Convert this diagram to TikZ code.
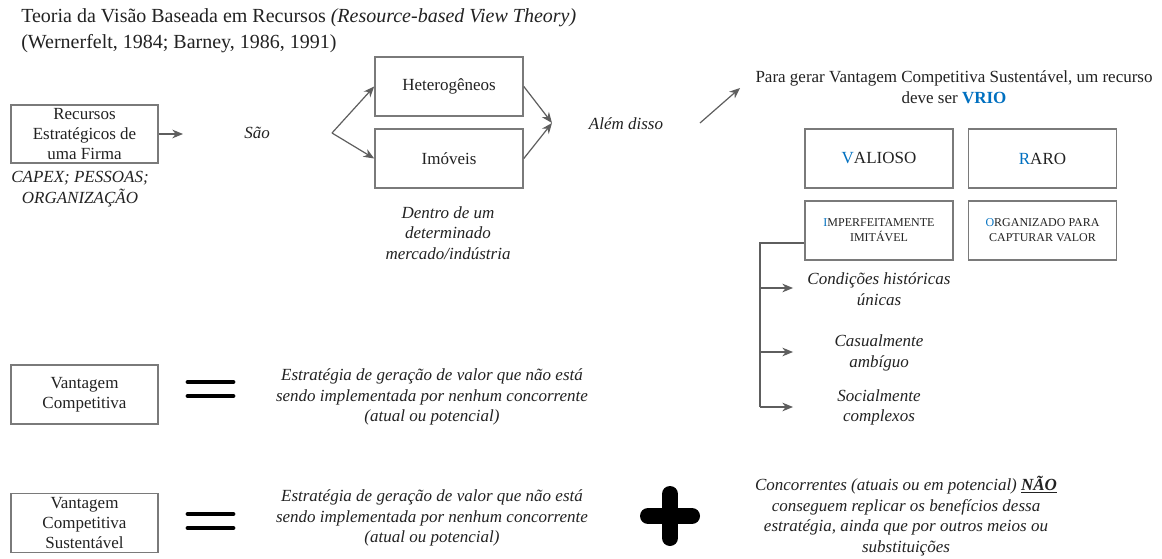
\documentclass[tikz,border=0pt]{standalone}
\usepackage{fontspec}
\setmainfont{Liberation Serif}
\usetikzlibrary{arrows.meta}
\definecolor{vblue}{HTML}{0070C0}
\definecolor{bordergray}{HTML}{7A7A7A}
\definecolor{arrgray}{HTML}{5E5E5E}
\definecolor{txt}{HTML}{222222}
\begin{document}
\begin{tikzpicture}[x=0.75pt,y=-0.75pt,
  every node/.style={text=txt},
  boxnode/.style={draw=bordergray, line width=1.2pt, align=center, inner sep=0pt,
    minimum width=111pt, minimum height=44.25pt, font=\fontsize{12.75}{15}\selectfont},
  smallbox/.style={boxnode, font=\fontsize{9}{11.25}\selectfont},
  plain/.style={align=center, inner sep=0pt, font=\fontsize{12.75}{15.75}\selectfont},
  itext/.style={align=center, inner sep=0pt, font=\fontsize{12.75}{15.5}\selectfont\itshape},
  conn/.style={draw=arrgray, line width=0.9pt, -{Stealth[length=8pt,width=6.5pt,inset=2.5pt]}},
  bracket/.style={draw=arrgray, line width=0.9pt},
  bar/.style={draw=black, line width=3.6pt, line cap=round},
  plusarm/.style={draw=black, line width=12pt, line cap=round},
]
\useasboundingbox[fill=white] (0,0) rectangle (1162,559);

% title
\node[anchor=west, inner sep=0pt, font=\fontsize{15}{18}\selectfont] (title1) at (21,18)
  {Teoria da Visão Baseada em Recursos \textit{(Resource-based View Theory)}};
\node[anchor=west, inner sep=0pt, font=\fontsize{15}{18}\selectfont] (title2) at (21,44)
  {(Wernerfelt, 1984; Barney, 1986, 1991)};

% resources
\node[boxnode, minimum width=110.25pt, minimum height=43.5pt] (rec) at (84.5,134)
  {Recursos\\Estratégicos de\\uma Firma};
\node[itext] (capex) at (80,189) {CAPEX; PESSOAS;\\ORGANIZAÇÃO};
\coordinate (recend) at (183,134);
\draw[conn] (rec.east) -- (recend);
\node[itext] (sao) at (257,133) {São};

\coordinate (fork) at (332,133);
\node[boxnode] (het) at (449,86.5) {Heterogêneos};
\node[boxnode] (imo) at (449,158.5) {Imóveis};
\draw[conn] (fork) -- (het.west);
\draw[conn] (fork) -- (imo.west);
\coordinate (conv) at (552,123);
\draw[conn] (het.east) -- (conv);
\draw[conn] (imo.east) -- (conv);
\node[itext] (dentro) at (448,233) {Dentro de um\\determinado\\mercado/indústria};

\node[itext] (alem) at (626,124) {Além disso};
\coordinate (a1) at (700,123);
\coordinate (a2) at (740,88);
\draw[conn] (a1) -- (a2);

\node[plain] (vrio) at (954,87.5)
  {Para gerar Vantagem Competitiva Sustentável, um recurso\\deve ser \textbf{\textcolor{vblue}{VRIO}}};

% VRIO boxes
\node[boxnode] (val) at (879,158.5) {\textcolor{vblue}{V}ALIOSO};
\node[boxnode] (raro) at (1042.5,158.5) {\textcolor{vblue}{R}ARO};
\node[smallbox] (imp) at (879,230.5) {\textcolor{vblue}{I}MPERFEITAMENTE\\IMITÁVEL};
\node[smallbox] (org) at (1042.5,230.5) {\textcolor{vblue}{O}RGANIZADO PARA\\CAPTURAR VALOR};

% bracket
\coordinate (bk0) at (760,243);
\coordinate (bk1) at (760,288);
\coordinate (bk2) at (760,352);
\coordinate (bk3) at (760,407);
\coordinate (tp1) at (793,288);
\coordinate (tp2) at (793,352);
\coordinate (tp3) at (793,407);
\draw[bracket] (imp.west |- bk0) -- (bk0) -- (bk3);
\draw[conn] (bk1) -- (tp1);
\draw[conn] (bk2) -- (tp2);
\draw[conn] (bk3) -- (tp3);
\node[itext] (cond) at (879,289.5) {Condições históricas\\únicas};
\node[itext] (casu) at (879,353) {Casualmente\\ambíguo};
\node[itext] (soc) at (879,407.5) {Socialmente\\complexos};

% bottom rows
\node[boxnode, minimum width=110.25pt] (vc) at (84.5,394.5) {Vantagem\\Competitiva};
\node[boxnode, minimum width=110.25pt] (vcs) at (84.5,523) {Vantagem\\Competitiva\\Sustentável};

\draw[bar] (188,382) -- (233,382);
\draw[bar] (188,396) -- (233,396);
\draw[bar] (188,514) -- (233,514);
\draw[bar] (188,528) -- (233,528);

\node[itext] (est1) at (432,397)
  {Estratégia de geração de valor que não está\\sendo implementada por nenhum concorrente\\(atual ou potencial)};
\node[itext] (est2) at (432,518)
  {Estratégia de geração de valor que não está\\sendo implementada por nenhum concorrente\\(atual ou potencial)};

\draw[plusarm] (670,494) -- (670,538);
\draw[plusarm] (648,516) -- (692,516);

\node[itext] (conc) at (906,516)
  {Concorrentes (atuais ou em potencial) \underline{\textbf{NÃO}}\\conseguem replicar os benefícios dessa\\estratégia, ainda que por outros meios ou\\substituições};
\end{tikzpicture}
\end{document}
